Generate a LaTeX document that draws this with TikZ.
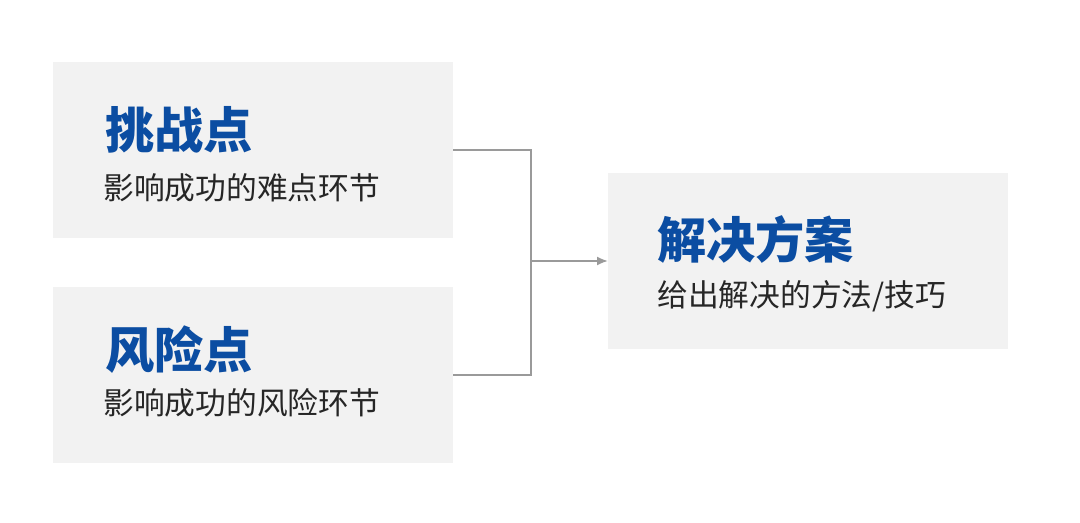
\documentclass[tikz,border=0pt]{standalone}
\usepackage{fontspec}
\setmainfont{Noto Sans CJK SC}
\usetikzlibrary{positioning,arrows.meta}
\definecolor{titleblue}{HTML}{0B4DA2}
\definecolor{boxgray}{HTML}{F2F2F2}
\definecolor{linegray}{HTML}{9A9A9A}
\tikzset{
  panel/.style={fill=boxgray,draw=none,minimum width=8cm,minimum height=3.52cm,inner sep=0pt},
  headline/.style={anchor=west,inner sep=0pt,text=titleblue,font=\fontsize{28}{30}\selectfont\bfseries},
  subline/.style={anchor=west,inner sep=0pt,text=black!85,font=\fontsize{17.5}{20}\selectfont},
  joint/.style={draw=linegray,line width=0.6pt}
}
\begin{document}
\begin{tikzpicture}
  \useasboundingbox (0,0) rectangle (21.6,10.46);

  % left panels
  \node[panel] (challenge) at (5.06,7.46) {};
  \node[panel] (risk) at (5.06,2.96) {};
  % right panel
  \node[panel] (solution) at (16.16,5.24) {};

  \node[headline] (challengeTitle) at (2.1,7.86) {挑战点};
  \node[subline] (challengeText) at (2.06,6.7) {影响成功的难点环节};
  \node[headline] (riskTitle) at (2.1,3.46) {风险点};
  \node[subline] (riskText) at (2.06,2.4) {影响成功的风险环节};
  \node[headline] (solutionTitle) at (13.14,5.66) {解决方案};
  \node[subline] (solutionText) at (13.14,4.54) {给出解决的方法/技巧};

  % connector
  \coordinate (merge) at (10.62,5.24);
  \draw[joint] (challenge.east) -| (merge);
  \draw[joint] (risk.east) -| (merge);
  \draw[joint,-{Latex[length=6pt,width=5pt]}] (merge) -- (solution.west);
\end{tikzpicture}
\end{document}
